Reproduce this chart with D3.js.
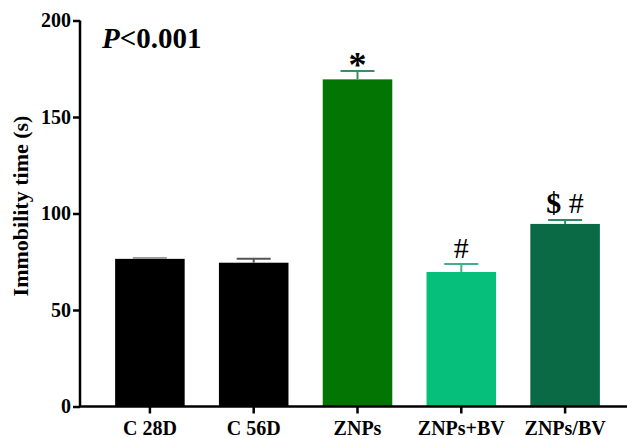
<!DOCTYPE html>
<html><head><meta charset="utf-8">
<script src="https://cdn.jsdelivr.net/npm/d3@7"></script>
<style>body{margin:0;background:#fff}svg{display:block}</style>
</head><body>
<svg id="c" width="627" height="438"></svg>
<script>
const categories = ["C 28D","C 56D","ZNPs","ZNPs+BV","ZNPs/BV"];
const values = [76.5, 74.5, 169.5, 69.7, 94.6];
const errors = [0.5, 2.0, 4.3, 4.1, 2.0];
const colors = ["#000000","#000000","#037503","#06BF7A","#0A6A45"];
const errColors = ["#9a9a9a","#555555","#3a8f60","#3fb08a","#2f8a62"];
const marks = ["","","*","#","$ #"];
const yTicks = [0,50,100,150,200];

const svg = d3.select("#c");
const x = d3.scaleBand().domain(categories).range([98, 617]).paddingInner(0.33).paddingOuter(0.165);
const y = d3.scaleLinear().domain([0,200]).range([406.5, 20.5]);
const font = "'Liberation Serif','Times New Roman',serif";

// bars
svg.selectAll("rect.bar").data(categories).join("rect")
  .attr("x", d => x(d)).attr("width", x.bandwidth())
  .attr("y", (d,i) => y(values[i])).attr("height", (d,i) => y(0) - y(values[i]))
  .attr("fill", (d,i) => colors[i]);

// error bars
const eg = svg.append("g");
categories.forEach((c,i) => {
  const cx = x(c) + x.bandwidth()/2;
  eg.append("line").attr("x1",cx).attr("x2",cx).attr("y1",y(values[i])).attr("y2",y(values[i]+errors[i]))
    .attr("stroke",errColors[i]).attr("stroke-width",2);
  eg.append("line").attr("x1",cx-17).attr("x2",cx+17).attr("y1",y(values[i]+errors[i])).attr("y2",y(values[i]+errors[i]))
    .attr("stroke",errColors[i]).attr("stroke-width",2);
});

// annotations
categories.forEach((c,i) => {
  if (!marks[i]) return;
  const cx = x(c) + x.bandwidth()/2;
  const top = y(values[i]+errors[i]);
  if (marks[i] === "*") {
    svg.append("text").attr("x",cx).attr("y",top+6).attr("text-anchor","middle")
      .attr("font-family",font).attr("font-weight","bold").attr("font-size",36).text("*");
  } else if (marks[i] === "#") {
    svg.append("text").attr("x",cx).attr("y",top-6).attr("text-anchor","middle")
      .attr("font-family",font).attr("font-size",30).text("#");
  } else {
    const t = svg.append("text").attr("x",cx).attr("y",top-7).attr("text-anchor","middle")
      .attr("font-family",font).attr("font-size",30);
    t.append("tspan").attr("font-weight","bold").text("$");
    t.append("tspan").text(" #");
  }
});

// y axis
const ya = svg.append("g").attr("transform","translate(80,0)")
  .call(d3.axisLeft(y).tickValues(yTicks).tickSize(7).tickPadding(2).tickFormat(d3.format("d")));
ya.select(".domain").attr("stroke","#000").attr("stroke-width",2.5).attr("d","M0,"+y(200)+"V"+y(0));
ya.selectAll(".tick line").attr("stroke","#000").attr("stroke-width",2.5);
ya.selectAll("text").attr("font-family",font).attr("font-weight","bold").attr("font-size",20).attr("fill","#000");

// x axis
const xa = svg.append("g").attr("transform","translate(0,"+y(0)+")")
  .call(d3.axisBottom(x).tickSize(7).tickPadding(7));
xa.select(".domain").attr("stroke","#000").attr("stroke-width",2.5).attr("d","M79,0H627");
xa.selectAll(".tick line").attr("stroke","#000").attr("stroke-width",2.5);
xa.selectAll("text").attr("font-family",font).attr("font-weight","bold").attr("font-size",20).attr("fill","#000");

// y label
svg.append("text").attr("transform","translate(28,206) rotate(-90)").attr("text-anchor","middle")
  .attr("font-family",font).attr("font-weight","bold").attr("font-size",22).text("Immobility time (s)");

// P value
const pt = svg.append("text").attr("x",102).attr("y",48).attr("font-family",font).attr("font-weight","bold").attr("font-size",29);
pt.append("tspan").attr("font-style","italic").text("P");
pt.append("tspan").text("<0.001");
</script>
</body></html>
